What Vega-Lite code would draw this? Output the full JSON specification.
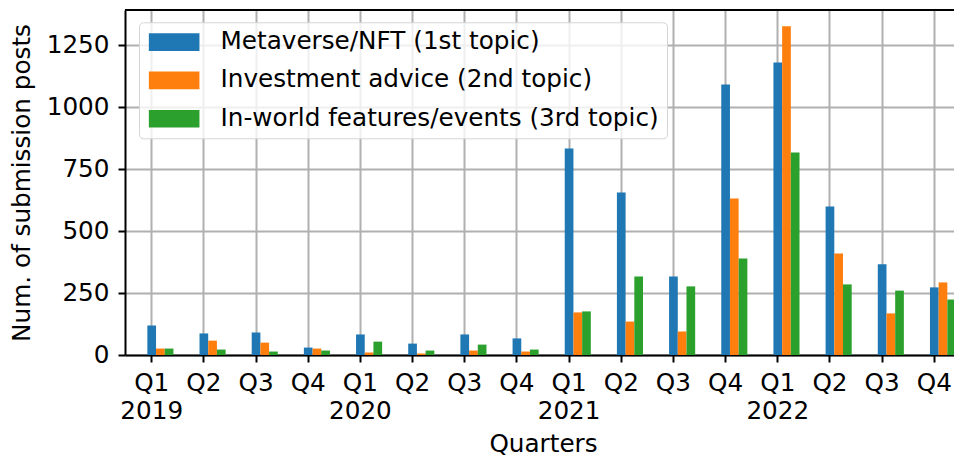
{
  "$schema": "https://vega.github.io/schema/vega-lite/v6.json",
  "autosize": {"type": "none"},
  "padding": {"left": 125, "top": 10, "right": 0, "bottom": 102},
  "width": 829,
  "height": 345,
  "config": {
    "font": "DejaVu Sans",
    "view": {"stroke": null},
    "axis": {
      "labelFont": "DejaVu Sans",
      "titleFont": "DejaVu Sans",
      "labelFontSize": 24.7,
      "titleFontSize": 24.7,
      "titleFontWeight": "normal",
      "labelColor": "black",
      "titleColor": "black",
      "tickColor": "black",
      "domainColor": "black",
      "domainWidth": 2,
      "tickWidth": 2,
      "tickSize": 7,
      "gridColor": "#b0b0b0",
      "gridWidth": 2,
      "gridOpacity": 1,
      "zindex": 1
    }
  },
  "data": {
    "values": [
      {"q": "Q1 2019", "topic": "Metaverse/NFT (1st topic)", "n": 119},
      {"q": "Q1 2019", "topic": "Investment advice (2nd topic)", "n": 26},
      {"q": "Q1 2019", "topic": "In-world features/events (3rd topic)", "n": 26},
      {"q": "Q2 2019", "topic": "Metaverse/NFT (1st topic)", "n": 87},
      {"q": "Q2 2019", "topic": "Investment advice (2nd topic)", "n": 58},
      {"q": "Q2 2019", "topic": "In-world features/events (3rd topic)", "n": 22},
      {"q": "Q3 2019", "topic": "Metaverse/NFT (1st topic)", "n": 91},
      {"q": "Q3 2019", "topic": "Investment advice (2nd topic)", "n": 50},
      {"q": "Q3 2019", "topic": "In-world features/events (3rd topic)", "n": 14},
      {"q": "Q4 2019", "topic": "Metaverse/NFT (1st topic)", "n": 30},
      {"q": "Q4 2019", "topic": "Investment advice (2nd topic)", "n": 26},
      {"q": "Q4 2019", "topic": "In-world features/events (3rd topic)", "n": 18},
      {"q": "Q1 2020", "topic": "Metaverse/NFT (1st topic)", "n": 83},
      {"q": "Q1 2020", "topic": "Investment advice (2nd topic)", "n": 10},
      {"q": "Q1 2020", "topic": "In-world features/events (3rd topic)", "n": 54},
      {"q": "Q2 2020", "topic": "Metaverse/NFT (1st topic)", "n": 46},
      {"q": "Q2 2020", "topic": "Investment advice (2nd topic)", "n": 6},
      {"q": "Q2 2020", "topic": "In-world features/events (3rd topic)", "n": 18},
      {"q": "Q3 2020", "topic": "Metaverse/NFT (1st topic)", "n": 83},
      {"q": "Q3 2020", "topic": "Investment advice (2nd topic)", "n": 18},
      {"q": "Q3 2020", "topic": "In-world features/events (3rd topic)", "n": 42},
      {"q": "Q4 2020", "topic": "Metaverse/NFT (1st topic)", "n": 67},
      {"q": "Q4 2020", "topic": "Investment advice (2nd topic)", "n": 14},
      {"q": "Q4 2020", "topic": "In-world features/events (3rd topic)", "n": 22},
      {"q": "Q1 2021", "topic": "Metaverse/NFT (1st topic)", "n": 834},
      {"q": "Q1 2021", "topic": "Investment advice (2nd topic)", "n": 172},
      {"q": "Q1 2021", "topic": "In-world features/events (3rd topic)", "n": 176},
      {"q": "Q2 2021", "topic": "Metaverse/NFT (1st topic)", "n": 656},
      {"q": "Q2 2021", "topic": "Investment advice (2nd topic)", "n": 135},
      {"q": "Q2 2021", "topic": "In-world features/events (3rd topic)", "n": 317},
      {"q": "Q3 2021", "topic": "Metaverse/NFT (1st topic)", "n": 317},
      {"q": "Q3 2021", "topic": "Investment advice (2nd topic)", "n": 95},
      {"q": "Q3 2021", "topic": "In-world features/events (3rd topic)", "n": 277},
      {"q": "Q4 2021", "topic": "Metaverse/NFT (1st topic)", "n": 1092},
      {"q": "Q4 2021", "topic": "Investment advice (2nd topic)", "n": 632},
      {"q": "Q4 2021", "topic": "In-world features/events (3rd topic)", "n": 390},
      {"q": "Q1 2022", "topic": "Metaverse/NFT (1st topic)", "n": 1181},
      {"q": "Q1 2022", "topic": "Investment advice (2nd topic)", "n": 1327},
      {"q": "Q1 2022", "topic": "In-world features/events (3rd topic)", "n": 818},
      {"q": "Q2 2022", "topic": "Metaverse/NFT (1st topic)", "n": 600},
      {"q": "Q2 2022", "topic": "Investment advice (2nd topic)", "n": 410},
      {"q": "Q2 2022", "topic": "In-world features/events (3rd topic)", "n": 285},
      {"q": "Q3 2022", "topic": "Metaverse/NFT (1st topic)", "n": 366},
      {"q": "Q3 2022", "topic": "Investment advice (2nd topic)", "n": 168},
      {"q": "Q3 2022", "topic": "In-world features/events (3rd topic)", "n": 260},
      {"q": "Q4 2022", "topic": "Metaverse/NFT (1st topic)", "n": 273},
      {"q": "Q4 2022", "topic": "Investment advice (2nd topic)", "n": 293},
      {"q": "Q4 2022", "topic": "In-world features/events (3rd topic)", "n": 224}
    ]
  },
  "layer": [
    {
      "mark": {"type": "bar", "clip": true},
      "encoding": {
        "x": {
          "field": "q",
          "type": "nominal",
          "sort": null,
          "scale": {"range": [0, 836], "paddingInner": 0.1667, "paddingOuter": 0.095},
          "axis": {
            "title": "Quarters",
            "labelAngle": 0,
            "labelExpr": "indexof(datum.value, 'Q1') == 0 ? split(datum.value, ' ') : split(datum.value, ' ')[0]",
            "labelLineHeight": 28.3,
            "labelPadding": 8,
            "labelOverlap": false,
            "grid": true,
            "bandPosition": 0.5,
            "titlePadding": 8
          }
        },
        "xOffset": {
          "field": "topic",
          "type": "nominal",
          "scale": {
            "domain": ["_a", "_b", "Metaverse/NFT (1st topic)", "Investment advice (2nd topic)", "In-world features/events (3rd topic)"],
            "paddingInner": 0,
            "paddingOuter": 0
          }
        },
        "y": {
          "field": "n",
          "type": "quantitative",
          "scale": {"domain": [0, 1393], "nice": false, "zero": true},
          "axis": {
            "title": "Num. of submission posts",
            "values": [0, 250, 500, 750, 1000, 1250],
            "format": "d",
            "grid": true,
            "labelPadding": 9,
            "titlePadding": 12
          }
        },
        "color": {
          "field": "topic",
          "type": "nominal",
          "sort": null,
          "scale": {
            "domain": ["Metaverse/NFT (1st topic)", "Investment advice (2nd topic)", "In-world features/events (3rd topic)"],
            "range": ["#1f77b4", "#ff7f0e", "#2ca02c"]
          },
          "legend": {
            "title": null,
            "orient": "none",
            "legendX": 14,
            "legendY": 12.3,
            "symbolType": "M-1,-0.885L4.06,-0.885L4.06,0.885L-1,0.885Z",
            "symbolSize": 400,
            "symbolStrokeWidth": 0,
            "labelFontSize": 24.7,
            "labelFont": "DejaVu Sans",
            "labelColor": "black",
            "labelLimit": 700,
            "labelOffset": 49.3,
            "rowPadding": 12.3,
            "padding": 7.5,
            "fillColor": "rgba(255,255,255,0.8)",
            "strokeColor": "#d5d5d5",
            "cornerRadius": 4,
            "zindex": 2
          }
        }
      }
    },
    {
      "mark": {"type": "rule", "color": "black", "strokeWidth": 2},
      "encoding": {"y": {"datum": 1393}}
    }
  ]
}
